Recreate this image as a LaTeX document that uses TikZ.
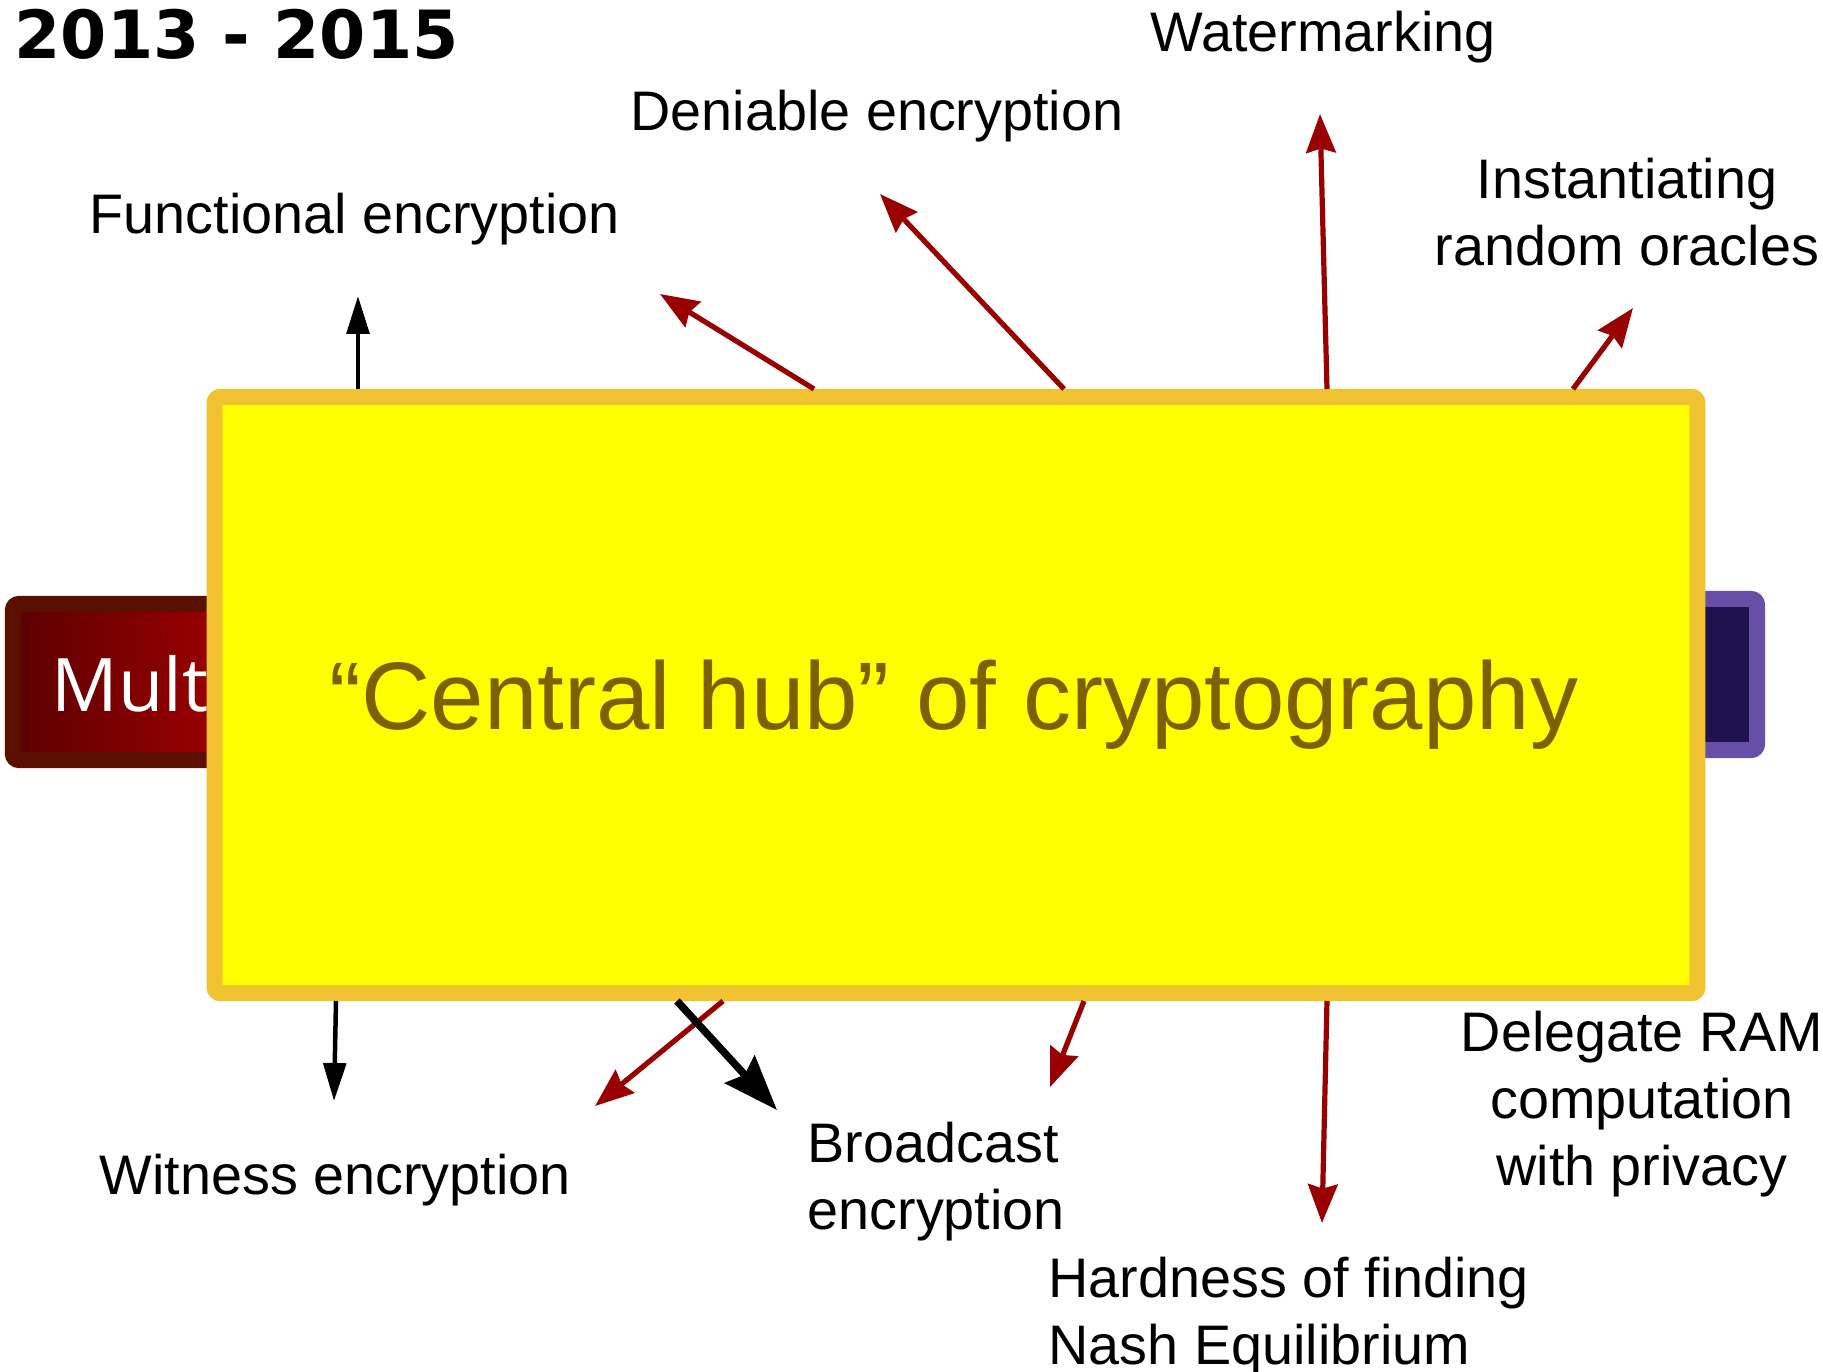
\documentclass[tikz,border=0pt]{standalone}
\usepackage{fontspec}
\setmainfont{Liberation Sans}
\newfontfamily\yearfont{DejaVu Sans}
\newfontfamily\tabfont{Open Sans}
\usetikzlibrary{arrows.meta}

\definecolor{hubfill}{HTML}{FFFF00}
\definecolor{hubedge}{HTML}{F1C232}
\definecolor{hubtext}{HTML}{7F6000}
\definecolor{arrowred}{HTML}{990000}
\definecolor{mmedge}{HTML}{5B0F00}
\definecolor{mmleft}{HTML}{5A0000}
\definecolor{mmright}{HTML}{A80000}
\definecolor{ioedge}{HTML}{674EA7}
\definecolor{iofill}{HTML}{20124D}

\begin{document}
\begin{tikzpicture}[x=0.01cm,y=-0.01cm,
  lbl/.style={font=\fontsize{15.85}{19}\selectfont, inner sep=0pt},
  tab/.style={line width=0.16cm, rounded corners=0.06cm, inner sep=0pt},
  redarrow/.style={draw=arrowred, line width=0.052cm,
    -{Stealth[length=11pt,width=8.4pt,inset=1.2pt]}},
  blackarrow/.style={draw=black, line width=0.045cm,
    -{Triangle[length=10.8pt,width=6.4pt]}},
  thickarrow/.style={draw=black, line width=0.075cm,
    -{Stealth[length=15.6pt,width=11.4pt,inset=2pt]}}
]
\useasboundingbox (0,0) rectangle (1823,1372);

% side tabs partly hidden behind the hub
\node[tab, draw=mmedge, left color=mmleft, right color=mmright,
  minimum width=2.47cm, minimum height=1.56cm] (mm) at (136.5,682) {};
\node[font=\tabfont\fontsize{21}{25}\selectfont, text=white,
  anchor=base west, inner sep=0pt] (mmtext) at (51,711) {Mult};
\node[tab, draw=ioedge, fill=iofill,
  minimum width=1.57cm, minimum height=1.51cm] (io) at (1678.5,674.5) {};

% central hub
\node[draw=hubedge, fill=hubfill, line width=0.16cm, rounded corners=0.06cm,
  minimum width=14.82cm, minimum height=5.96cm, inner sep=0pt] (hub) at (956,695) {};
\node[font=\fontsize{27.3}{33}\selectfont, text=hubtext, anchor=base,
  inner sep=0pt] (hubtext) at (954,729) {“Central hub” of cryptography};

% year heading
\node[font=\yearfont\bfseries\fontsize{18.9}{22}\selectfont, anchor=base west,
  inner sep=0pt] (year) at (14,58) {2013 - 2015};

% application labels (multi-line labels are placed by their last baseline)
\node[lbl, anchor=base west] (fe) at (89,233) {Functional encryption};
\node[lbl, anchor=base west] (de) at (630,130) {Deniable encryption};
\node[lbl, anchor=base west] (wm) at (1150,51) {Watermarking};
\node[lbl, align=center, anchor=base] (ro) at (1627,265) {Instantiating\\random oracles};
\node[lbl, anchor=base west] (we) at (99,1194) {Witness encryption};
\node[lbl, align=left, anchor=base west] (be) at (807,1229) {Broadcast\\encryption};
\node[lbl, align=center, anchor=base] (dr) at (1642,1185) {Delegate RAM\\computation\\with privacy};
\node[lbl, align=left, anchor=base west] (ne) at (1048,1364) {Hardness of finding\\Nash Equilibrium};

% arrow end points
\coordinate (fe-s) at (358,389);  \coordinate (fe-t) at (358,296);
\coordinate (a2-s) at (814,389);  \coordinate (a2-t) at (660,294);
\coordinate (de-s) at (1064,389); \coordinate (de-t) at (880,194);
\coordinate (wm-s) at (1327,389); \coordinate (wm-t) at (1320,114);
\coordinate (ro-s) at (1573,389); \coordinate (ro-t) at (1633,308);
\coordinate (we-s) at (336,1001); \coordinate (we-t) at (334,1101);
\coordinate (a7-s) at (723,1001); \coordinate (a7-t) at (595,1106);
\coordinate (be-s) at (677,1001); \coordinate (be-t) at (777,1110);
\coordinate (a9-s) at (1084,1001); \coordinate (a9-t) at (1050,1087);
\coordinate (ne-s) at (1327,1001); \coordinate (ne-t) at (1322,1223);

% arrows
\draw[blackarrow] (fe-s) -- (fe-t);
\draw[redarrow] (a2-s) -- (a2-t);
\draw[redarrow] (de-s) -- (de-t);
\draw[redarrow] (wm-s) -- (wm-t);
\draw[redarrow] (ro-s) -- (ro-t);
\draw[blackarrow] (we-s) -- (we-t);
\draw[redarrow] (a7-s) -- (a7-t);
\draw[thickarrow] (be-s) -- (be-t);
\draw[redarrow] (a9-s) -- (a9-t);
\draw[redarrow] (ne-s) -- (ne-t);
\end{tikzpicture}
\end{document}
